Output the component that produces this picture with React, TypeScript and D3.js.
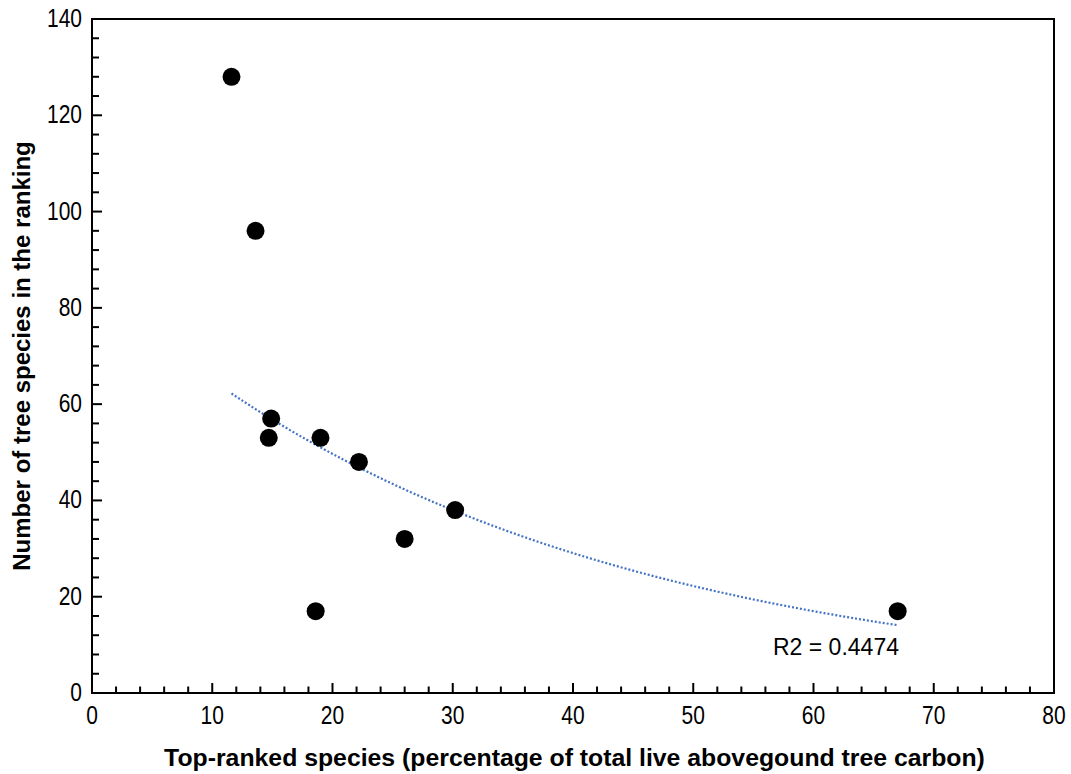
import React from "react";
import * as d3 from "d3";

const W = 1071;
const H = 774;

const xValues = [11.6, 13.6, 14.9, 14.7, 19.0, 22.2, 26.0, 18.6, 30.2, 67.0];
const yValues = [128, 96, 57, 53, 53, 48, 32, 17, 38, 17];
const xTicks = [0, 10, 20, 30, 40, 50, 60, 70, 80];
const yTicks = [0, 20, 40, 60, 80, 100, 120, 140];
const r2Label = "R2 = 0.4474";
const xTitle = "Top-ranked species (percentage of total live abovegound tree carbon)";
const yTitle = "Number of tree species in the ranking";

const FONT = "'Liberation Sans', Arial, sans-serif";
const TICK_SCALE = 0.84;

export default function App() {
  const x = d3.scaleLinear().domain([0, 80]).range([92, 1054]);
  const y = d3.scaleLinear().domain([0, 140]).range([693, 19]);

  // exponential fit y = a*exp(b*x) via least squares on ln(y)
  const n = xValues.length;
  const ly = yValues.map((v) => Math.log(v));
  const mx = d3.mean(xValues)!;
  const my = d3.mean(ly)!;
  let sxy = 0, sxx = 0;
  for (let i = 0; i < n; i++) {
    sxy += (xValues[i] - mx) * (ly[i] - my);
    sxx += (xValues[i] - mx) ** 2;
  }
  const b = sxy / sxx;
  const a = Math.exp(my - b * mx);
  const x0 = d3.min(xValues)!;
  const x1 = d3.max(xValues)!;
  const fitPts = d3.range(0, 101).map((i) => {
    const xv = x0 + ((x1 - x0) * i) / 100;
    return [xv, a * Math.exp(b * xv)] as [number, number];
  });
  const line = d3
    .line<[number, number]>()
    .x((d) => x(d[0]))
    .y((d) => y(d[1]));

  const xMinor = d3.range(0, 81, 2).filter((v) => v % 10 !== 0);
  const yMinor = d3.range(0, 141, 4).filter((v) => v % 20 !== 0);

  return (
    <div style={{ position: "absolute", left: 0, top: 0 }}>
      <svg width={W} height={H} style={{ display: "block", background: "#fff" }}>
        <rect x={0} y={0} width={W} height={H} fill="#fff" />
        {/* frame */}
        <rect
          x={x(0)}
          y={y(140)}
          width={x(80) - x(0)}
          height={y(0) - y(140)}
          fill="none"
          stroke="#000"
          strokeWidth={2}
        />
        {/* x ticks */}
        {xTicks.map((t) => (
          <g key={"xt" + t}>
            <line x1={x(t)} x2={x(t)} y1={y(0)} y2={y(0) - 10} stroke="#000" strokeWidth={2} />
            <text
              transform={`translate(${x(t)},724) scale(${TICK_SCALE},1)`}
              textAnchor="middle"
              fontFamily={FONT}
              fontSize={25}
              fill="#000"
            >
              {t}
            </text>
          </g>
        ))}
        {xMinor.map((t) => (
          <line key={"xm" + t} x1={x(t)} x2={x(t)} y1={y(0)} y2={y(0) - 6.5} stroke="#000" strokeWidth={2} />
        ))}
        {/* y ticks */}
        {yTicks.map((t) => (
          <g key={"yt" + t}>
            <line x1={x(0)} x2={x(0) + 10} y1={y(t)} y2={y(t)} stroke="#000" strokeWidth={2} />
            <text
              transform={`translate(82,${y(t) + 8}) scale(${TICK_SCALE},1)`}
              textAnchor="end"
              fontFamily={FONT}
              fontSize={25}
              fill="#000"
            >
              {t}
            </text>
          </g>
        ))}
        {yMinor.map((t) => (
          <line key={"ym" + t} x1={x(0)} x2={x(0) + 7} y1={y(t)} y2={y(t)} stroke="#000" strokeWidth={2} />
        ))}
        {/* trend line */}
        <path
          d={line(fitPts) || ""}
          fill="none"
          stroke="#4472C4"
          strokeWidth={2.2}
          strokeDasharray="2 2"
        />
        {/* points */}
        {xValues.map((xv, i) => (
          <circle key={"p" + i} cx={x(xv)} cy={y(yValues[i])} r={9} fill="#000" />
        ))}
        {/* R2 label */}
        <text x={773} y={655} fontFamily={FONT} fontSize={23} fill="#000">
          {r2Label}
        </text>
        {/* axis titles */}
        <text
          x={574.5}
          y={766}
          textAnchor="middle"
          fontFamily={FONT}
          fontWeight="bold"
          fontSize={24.8}
          fill="#000"
        >
          {xTitle}
        </text>
        <text
          transform={`translate(30,356) rotate(-90)`}
          textAnchor="middle"
          fontFamily={FONT}
          fontWeight="bold"
          fontSize={24}
          fill="#000"
        >
          {yTitle}
        </text>
      </svg>
    </div>
  );
}
